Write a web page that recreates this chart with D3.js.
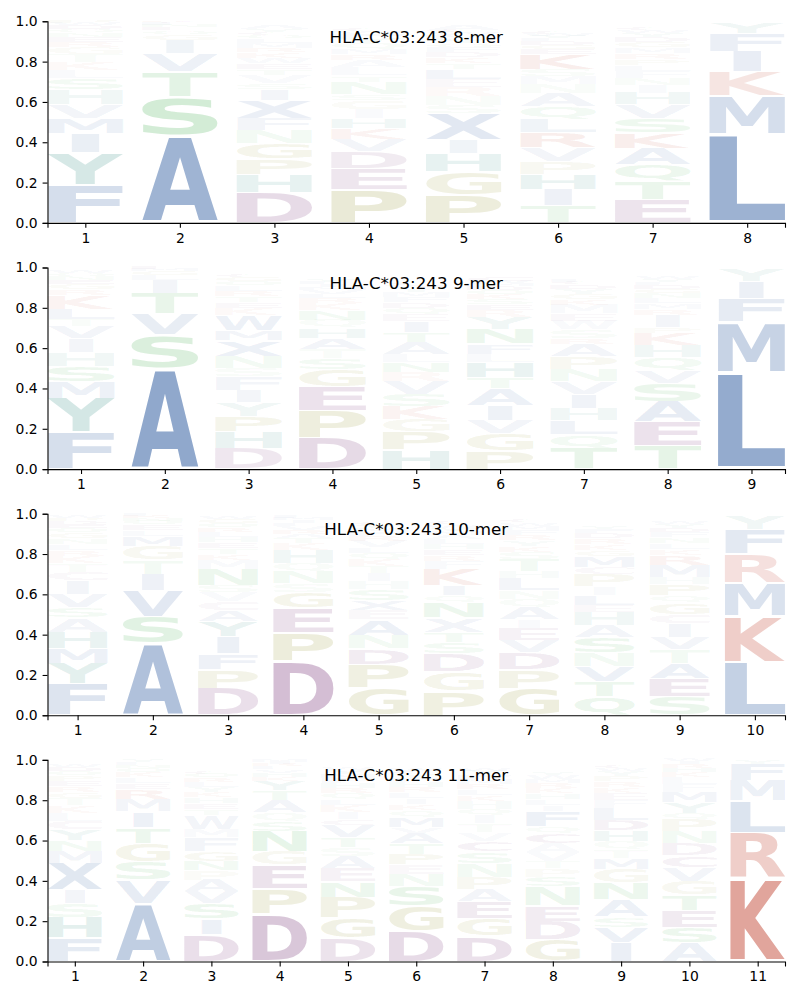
<!DOCTYPE html>
<html><head><meta charset="utf-8">
<script src="https://cdn.jsdelivr.net/npm/d3@7"></script>
<style>body{margin:0;background:#fff} svg{display:block}</style>
</head><body>
<svg id="chart" width="800" height="1000"></svg>
<script>
// Each position lists letters bottom -> top with their heights (probabilities)
const mer8 = [
 {F:.19,Y:.16,I:.095,M:.075,V:.07,H:.072,S:.055,L:.04,K:.04,T:.038,G:.035,R:.025,E:.025,N:.022,Q:.02,D:.018,W:.012,P:.01},
 {A:.43,S:.195,T:.125,V:.09,I:.065,G:.03,Q:.02,E:.015,N:.01,L:.01,C:.008,K:.007},
 {D:.15,H:.09,P:.077,G:.078,N:.066,F:.058,X:.09,I:.055,S:.03,V:.04,T:.03,E:.03,W:.025,K:.03,R:.02,M:.025,L:.02,Q:.015,C:.015,Y:.015,A:.02},
 {P:.165,E:.105,D:.085,V:.06,K:.055,H:.05,I:.045,G:.045,S:.03,N:.06,T:.03,L:.04,A:.035,R:.03,M:.025,Q:.03,Y:.025,F:.02,W:.015,C:.015},
 {P:.14,G:.115,H:.09,I:.066,X:.13,S:.04,N:.045,R:.045,E:.04,L:.05,T:.03,K:.03,D:.025,F:.025,Q:.02,Y:.02,M:.02,W:.015,C:.01,A:.03},
 {T:.085,I:.08,H:.075,P:.065,V:.067,R:.075,L:.065,Q:.065,A:.065,N:.045,M:.04,S:.035,K:.075,E:.025,G:.02,D:.02,F:.015,Y:.01,W:.01,C:.015},
 {E:.115,T:.09,Q:.083,A:.083,K:.075,S:.074,V:.066,H:.058,I:.04,N:.035,F:.035,L:.03,P:.03,R:.03,M:.028,G:.025,D:.025,Y:.02,W:.015,C:.012},
 {L:.44,M:.19,K:.12,I:.1,F:.09,Y:.055}
];
const mer9 = [
 {F:.182,Y:.168,M:.085,S:.076,H:.068,I:.068,V:.06,T:.035,L:.052,K:.068,R:.03,G:.025,E:.02,N:.02,Q:.015,W:.01},
 {A:.5,S:.165,V:.105,T:.1,I:.065,L:.025,G:.02,M:.01,E:.01},
 {D:.1,H:.085,P:.077,Y:.068,I:.06,F:.068,S:.043,N:.06,X:.077,M:.05,W:.077,K:.035,E:.03,T:.03,R:.025,L:.025,Q:.02,G:.02,C:.015},
 {D:.155,P:.135,E:.12,G:.085,S:.055,T:.045,A:.055,H:.05,Q:.04,N:.05,K:.035,R:.025,L:.02,V:.02,M:.015,I:.015,F:.01,Y:.01},
 {H:.095,P:.09,G:.06,K:.065,S:.06,V:.065,R:.045,N:.05,L:.04,A:.06,T:.05,I:.055,E:.035,Q:.03,D:.03,F:.025,M:.025,Y:.02,W:.015,C:.01},
 {P:.09,G:.085,V:.066,I:.074,A:.083,T:.058,H:.074,L:.041,F:.05,N:.074,Y:.058,R:.033,E:.03,S:.025,K:.025,Q:.02,D:.02,M:.015,W:.01,C:.02},
 {T:.1,Q:.07,L:.07,H:.062,I:.07,V:.062,N:.062,P:.062,A:.062,R:.028,S:.044,W:.044,E:.035,M:.044,K:.03,G:.025,Y:.025,D:.02,C:.015,F:.015},
 {T:.115,E:.12,A:.1,S:.092,V:.06,Q:.068,H:.06,K:.06,P:.027,I:.06,R:.03,M:.03,L:.025,N:.025,G:.02,D:.02,F:.015,Y:.015,W:.01},
 {L:.48,M:.25,F:.115,I:.085,Y:.06}
];
const mer10 = [
 {F:.155,Y:.1,M:.075,H:.083,A:.07,S:.05,V:.068,I:.068,C:.042,T:.042,K:.035,R:.03,L:.03,N:.03,G:.025,Q:.025,E:.02,D:.015,P:.015,W:.01},
 {A:.355,S:.135,V:.13,I:.08,T:.07,G:.07,M:.05,L:.03,E:.025,Q:.02,N:.015,K:.01,F:.01},
 {D:.135,P:.092,F:.077,I:.085,Y:.077,A:.055,C:.045,V:.045,S:.035,N:.08,M:.045,K:.03,T:.03,E:.03,H:.025,L:.025,R:.02,Q:.02,G:.02,W:.015},
 {D:.27,P:.14,E:.125,G:.075,S:.042,N:.06,Q:.042,H:.066,K:.035,T:.025,A:.02,R:.02,V:.02,L:.015,I:.015,M:.01,F:.01},
 {G:.135,P:.118,D:.077,N:.068,A:.077,E:.045,X:.05,S:.055,H:.04,I:.04,T:.035,K:.035,Q:.03,L:.03,V:.03,R:.025,F:.02,M:.02,Y:.015,C:.01},
 {P:.12,G:.095,D:.09,S:.058,T:.05,X:.07,N:.075,Q:.035,I:.05,K:.083,F:.04,R:.03,E:.03,H:.025,L:.025,A:.02,M:.02,Y:.015,W:.015,C:.01},
 {G:.135,P:.092,D:.085,V:.06,E:.06,I:.043,A:.06,Q:.043,N:.043,L:.06,H:.035,T:.06,S:.035,K:.03,Y:.03,R:.025,F:.025,M:.02,W:.015,C:.01},
 {Q:.095,T:.075,V:.075,N:.066,S:.075,A:.06,H:.066,E:.035,L:.05,I:.043,P:.06,C:.035,M:.055,G:.03,K:.03,R:.03,D:.025,F:.02,Y:.015},
 {S:.092,E:.09,A:.077,T:.068,V:.06,I:.068,C:.045,G:.058,Q:.035,P:.058,H:.035,M:.058,R:.05,K:.03,L:.03,N:.03,F:.025,D:.02,Y:.02,W:.015},
 {L:.265,K:.227,M:.166,R:.141,F:.124,Y:.071}
];
const mer11 = [
 {F:.118,H:.1,S:.068,I:.068,X:.135,M:.06,N:.052,Y:.052,C:.045,L:.04,K:.035,T:.035,G:.03,R:.03,E:.025,P:.025,Q:.025,D:.02,W:.015},
 {A:.285,V:.118,S:.092,G:.092,T:.078,I:.078,M:.06,R:.05,E:.03,L:.03,K:.025,Q:.02,N:.015,F:.015,Y:.01},
 {D:.133,I:.077,S:.077,V:.06,A:.058,P:.045,N:.048,G:.048,F:.068,M:.043,W:.068,T:.03,E:.03,H:.03,K:.025,Y:.025,L:.025,R:.02,Q:.02,C:.015},
 {D:.235,P:.125,E:.118,G:.068,N:.1,S:.05,Q:.043,A:.058,T:.05,Y:.05,K:.02,H:.02,V:.015,L:.015,R:.01,I:.01,M:.01},
 {D:.118,G:.1,P:.1,N:.077,E:.068,A:.06,S:.043,T:.05,V:.06,C:.03,I:.035,K:.035,L:.03,Q:.03,R:.025,H:.025,F:.025,M:.02,Y:.02,W:.01},
 {D:.15,G:.125,S:.1,N:.06,E:.045,P:.052,T:.052,A:.052,V:.03,M:.05,Q:.035,K:.03,I:.03,L:.03,R:.025,H:.025,F:.02,Y:.02,C:.015,W:.01},
 {D:.125,G:.088,E:.085,A:.06,P:.06,N:.068,S:.06,C:.052,V:.043,T:.043,I:.043,Q:.03,H:.04,K:.03,L:.03,R:.025,M:.025,F:.02,Y:.02,W:.01},
 {G:.108,D:.093,E:.076,N:.093,S:.05,P:.042,T:.035,V:.045,A:.045,C:.05,Q:.035,F:.075,I:.03,L:.03,H:.03,K:.025,R:.025,M:.02,W:.02,Y:.015},
 {I:.092,V:.077,S:.052,A:.085,N:.085,G:.068,M:.052,T:.043,Q:.043,H:.052,D:.052,L:.06,F:.04,E:.035,K:.03,R:.03,P:.025,Y:.025,W:.015,C:.01},
 {A:.092,S:.077,E:.085,T:.077,G:.068,V:.068,C:.06,D:.06,N:.06,P:.06,Q:.03,Y:.052,M:.052,F:.04,L:.035,K:.025,H:.02,R:.02,I:.015,W:.01},
 {K:.415,R:.225,L:.157,M:.099,F:.083,Y:.02}
];
const titles = ["HLA-C*03:243 8-mer","HLA-C*03:243 9-mer","HLA-C*03:243 10-mer","HLA-C*03:243 11-mer"];
const yTicks = [0, 0.2, 0.4, 0.6, 0.8, 1.0];

const groupColors = {
  hydrophobic: "#466eaa", basic: "#c34a39", acidic: "#7a377a",
  polar: "#46af50", special: "#969632", aromatic: "#28887e"
};
const groupOf = {A:"hydrophobic",V:"hydrophobic",L:"hydrophobic",I:"hydrophobic",M:"hydrophobic",F:"hydrophobic",W:"hydrophobic",X:"hydrophobic",
  K:"basic",R:"basic",D:"acidic",E:"acidic",C:"acidic",S:"polar",T:"polar",N:"polar",Q:"polar",G:"special",P:"special",H:"aromatic",Y:"aromatic"};

const FONT_PX = 200;
const ctx = document.createElement("canvas").getContext("2d");
ctx.font = `bold ${FONT_PX}px 'DejaVu Sans'`;
const metricCache = {};
function metrics(ch){
  if(!metricCache[ch]){
    const t = ctx.measureText(ch);
    metricCache[ch] = {l:t.actualBoundingBoxLeft, r:t.actualBoundingBoxRight, a:t.actualBoundingBoxAscent, d:t.actualBoundingBoxDescent};
  }
  return metricCache[ch];
}
const opacityOf = v => Math.max(0.045, Math.min(1, 1.2*v));

const svg = d3.select("#chart");
const LEFT = 47.5, RIGHT = 785, TOP0 = 21.3, STEP = 246.2, PH = 201.6;
[mer8, mer9, mer10, mer11].forEach((data, i) => {
  const n = data.length;
  const top = TOP0 + i*STEP, bottom = top + PH;
  const x = d3.scaleLinear().domain([0.6, n + 0.4]).range([LEFT, RIGHT]);
  const y = d3.scaleLinear().domain([0, 1]).range([bottom, top]);
  const g = svg.append("g");
  const W = 0.8 * (x(2) - x(1));
  const mE = metrics("E");
  const sxMax = W / (mE.l + mE.r);
  data.forEach((pos, j) => {
    let floor = 0;
    Object.entries(pos).forEach(([ch, v]) => {
      const y0 = floor, y1 = floor + v; floor = y1;
      const hpx = y(y0) - y(y1);
      const pad = 0.03 * hpx;
      const by0 = y(y1) + pad, by1 = y(y0) - pad;
      const mt = metrics(ch);
      const inkW = mt.l + mt.r, inkH = mt.a + mt.d;
      const sx = Math.min(W / inkW, sxMax);
      const bx0 = x(j + 1) - inkW * sx / 2;
      const sy = (by1 - by0) / inkH;
      g.append("text").text(ch)
        .attr("transform", `translate(${bx0 + mt.l*sx},${by0 + mt.a*sy}) scale(${sx},${sy})`)
        .attr("font-family", "DejaVu Sans").attr("font-weight", "bold").attr("font-size", FONT_PX)
        .attr("fill", groupColors[groupOf[ch]])
        .attr("fill-opacity", opacityOf(v));
    });
  });
  const ya = g.append("g").attr("transform", `translate(${LEFT},0)`)
    .call(d3.axisLeft(y).tickValues(yTicks).tickFormat(d3.format(".1f")).tickSizeOuter(0).tickSize(4.9).tickPadding(4.9));
  const xa = g.append("g").attr("transform", `translate(0,${bottom})`)
    .call(d3.axisBottom(x).tickValues(d3.range(1, n + 1)).tickFormat(d3.format("d")).tickSizeOuter(0).tickSize(4.9).tickPadding(4.9));
  [ya, xa].forEach(a => {
    a.attr("font-family", "DejaVu Sans").attr("font-size", 13.9);
    a.selectAll("path,line").attr("stroke", "#000").attr("stroke-width", 1.1);
    a.selectAll("text").attr("fill", "#000");
  });
  g.append("text").attr("x", (LEFT + RIGHT)/2).attr("y", top + 21.5)
    .attr("text-anchor", "middle").attr("font-family", "DejaVu Sans").attr("font-size", 16.7)
    .attr("fill", "#000").text(titles[i]);
});
</script>
</body></html>
